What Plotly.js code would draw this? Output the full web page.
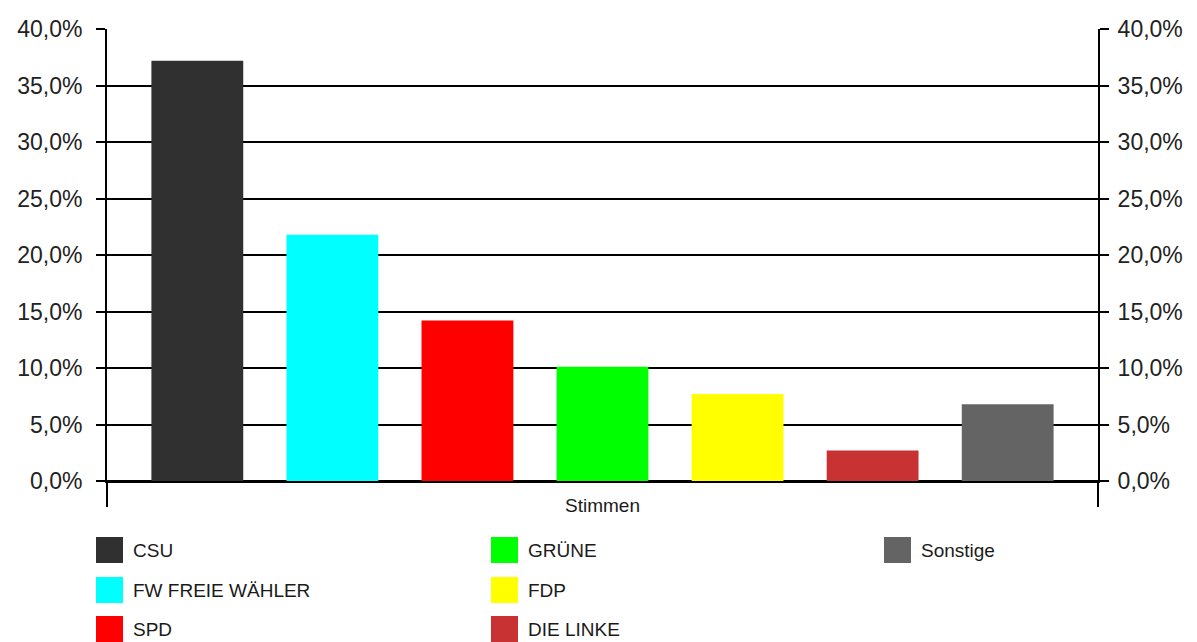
<!DOCTYPE html>
<html>
<head>
<meta charset="utf-8">
<script src="https://cdn.plot.ly/plotly-3.0.1.min.js"></script>
<style>
html,body{margin:0;padding:0;background:#fff;}
#chart{width:1197px;height:642px;}
</style>
</head>
<body>
<div id="chart"></div>
<script>
// ---- data ----
const category = ['Stimmen'];
const parties = ['CSU', 'FW FREIE WÄHLER', 'SPD', 'GRÜNE', 'FDP', 'DIE LINKE', 'Sonstige'];
const shares = [37.2, 21.8, 14.2, 10.1, 7.7, 2.7, 6.8];
const yTicks = [0, 5, 10, 15, 20, 25, 30, 35, 40];
const yTickLabels = ['0,0%', '5,0%', '10,0%', '15,0%', '20,0%', '25,0%', '30,0%', '35,0%', '40,0%'];

// ---- styles ----
const palette = ['#303030', '#00ffff', '#ff0000', '#00ff00', '#ffff00', '#c83232', '#646464'];
const FONT = 'Liberation Sans, Arial, sans-serif';
const W = 1197, H = 642;
const M = {l: 107, r: 99, t: 29, b: 161};
const PW = W - M.l - M.r, PH = H - M.t - M.b;
const px2x = p => (p - M.l) / PW;
const px2y = p => (H - M.b - p) / PH;

const traces = parties.map((name, i) => ({
  type: 'bar',
  name: name,
  x: category,
  y: [shares[i]],
  marker: {color: palette[i], line: {width: 0}},
  hoverinfo: 'name+y',
  showlegend: false
}));
// carrier for the right-hand axis
traces.push({
  type: 'scatter', mode: 'markers', x: category, y: [shares[0]],
  yaxis: 'y2', marker: {opacity: 0}, hoverinfo: 'skip', showlegend: false
});

// legend drawn in 3 columns (column-major order)
const shapes = [], annotations = [];
const colLeft = [96, 491, 884];
const rowMid = [550, 590, 629];
parties.forEach((name, i) => {
  const c = Math.floor(i / 3), r = i % 3;
  shapes.push({
    type: 'rect', xref: 'paper', yref: 'paper',
    x0: px2x(colLeft[c]), x1: px2x(colLeft[c] + 27),
    y0: px2y(rowMid[r] + 13), y1: px2y(rowMid[r] - 13),
    fillcolor: palette[i], line: {width: 0}
  });
  annotations.push({
    xref: 'paper', yref: 'paper',
    x: px2x(colLeft[c] + 35), y: px2y(rowMid[r]),
    xanchor: 'left', yanchor: 'middle', showarrow: false,
    text: name, font: {family: FONT, size: 19, color: '#1a1a1a'}
  });
});

const yCommon = {
  range: [0, 40], tickmode: 'array', tickvals: yTicks, ticktext: yTickLabels,
  ticks: 'outside', ticklen: 9, tickwidth: 2, tickcolor: '#000',
  showline: true, linewidth: 2, linecolor: '#000',
  tickfont: {family: FONT, size: 23, color: '#222'},
  fixedrange: true
};

const layout = {
  width: W, height: H,
  margin: M,
  paper_bgcolor: '#fff', plot_bgcolor: '#fff',
  barmode: 'group',
  bargap: 0.046,
  bargroupgap: 0.32,
  showlegend: false,
  xaxis: {
    type: 'category', range: [-0.5, 0.5],
    tickson: 'boundaries', ticks: 'outside', ticklen: 24, tickwidth: 2, tickcolor: '#000',
    showline: true, linewidth: 2, linecolor: '#000', showgrid: false,
    ticklabelstandoff: 6,
    tickfont: {family: FONT, size: 19, color: '#1a1a1a'},
    fixedrange: true
  },
  yaxis: Object.assign({}, yCommon, {
    side: 'left', showgrid: true, gridcolor: '#000', gridwidth: 2,
    zeroline: true, zerolinecolor: '#000', zerolinewidth: 2,
    ticklabelstandoff: 9
  }),
  yaxis2: Object.assign({}, yCommon, {
    side: 'right', overlaying: 'y', showgrid: false, zeroline: false,
    ticklabelstandoff: 4
  }),
  shapes: shapes,
  annotations: annotations
};

Plotly.newPlot('chart', traces, layout, {displayModeBar: false, staticPlot: true});
</script>
</body>
</html>
